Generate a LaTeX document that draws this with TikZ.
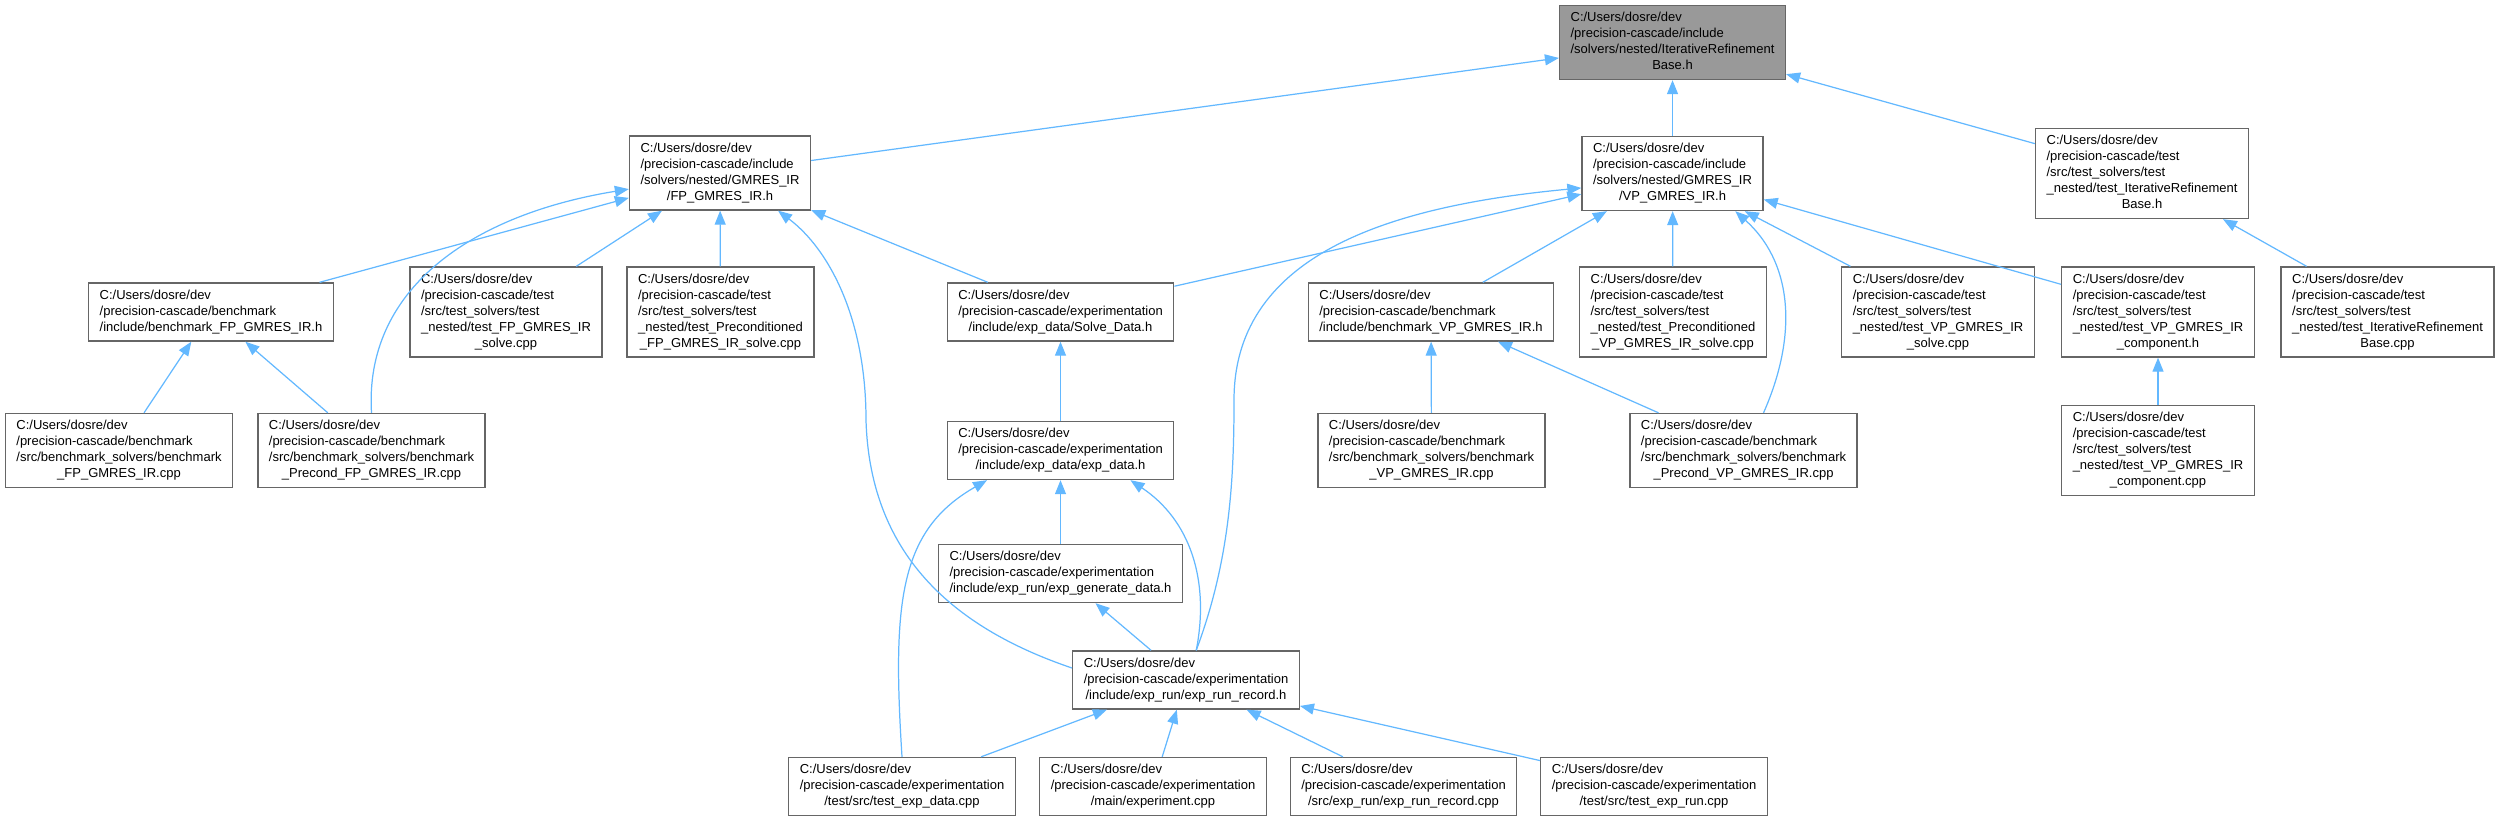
\documentclass[tikz,border=0pt]{standalone}
\usepackage{fontspec}
\setmainfont{Liberation Sans}
\usepackage{tikz}
\usetikzlibrary{arrows.meta}

\definecolor{edgeblue}{HTML}{63B8FF}
\definecolor{boxgray}{HTML}{666666}
\definecolor{rootfill}{HTML}{999999}
% all lines but the last are left aligned, the last one is centred
\newcommand{\flbl}[2]{\begin{tabular}{@{}l@{}}#1\\\multicolumn{1}{@{}c@{}}{#2}\end{tabular}}
\newcommand{\pcdir}{C:/Users/dosre/dev\\/precision-cascade}

\begin{document}
\begin{tikzpicture}[
  x=0.02cm, y=-0.02cm,
  font=\fontsize{7.4}{9.1}\selectfont,
  >={Triangle[length=0.28cm,width=0.22cm]},
  box/.style={draw=boxgray, line width=0.8pt, fill=#1, inner xsep=0.22cm, inner ysep=0.1cm},
  box/.default=white,
  edge/.style={->, line width=0.7pt, draw=edgeblue},
]
\useasboundingbox (0,0) rectangle (2500,821);
% top rows
\node[box=rootfill] (irb) at (1672.5,42.5) {\flbl{\pcdir/include\\/solvers/nested/IterativeRefinement}{Base.h}};
\node[box] (fp) at (720,173) {\flbl{\pcdir/include\\/solvers/nested/GMRES\_IR}{/FP\_GMRES\_IR.h}};
\node[box] (vp) at (1672.5,173.5) {\flbl{\pcdir/include\\/solvers/nested/GMRES\_IR}{/VP\_GMRES\_IR.h}};
\node[box] (tirbh) at (2142,173.5) {\flbl{\pcdir/test\\/src/test\_solvers/test\\\_nested/test\_IterativeRefinement}{Base.h}};
% headers and tests
\node[box] (bfph) at (211,312) {\flbl{\pcdir/benchmark}{/include/benchmark\_FP\_GMRES\_IR.h}};
\node[box] (tfps) at (506,312) {\flbl{\pcdir/test\\/src/test\_solvers/test\\\_nested/test\_FP\_GMRES\_IR}{\_solve.cpp}};
\node[box] (tpfp) at (720.5,312) {\flbl{\pcdir/test\\/src/test\_solvers/test\\\_nested/test\_Preconditioned}{\_FP\_GMRES\_IR\_solve.cpp}};
\node[box] (solve) at (1060.5,312) {\flbl{\pcdir/experimentation}{/include/exp\_data/Solve\_Data.h}};
\node[box] (bvph) at (1431,312) {\flbl{\pcdir/benchmark}{/include/benchmark\_VP\_GMRES\_IR.h}};
\node[box] (tpvp) at (1673,312) {\flbl{\pcdir/test\\/src/test\_solvers/test\\\_nested/test\_Preconditioned}{\_VP\_GMRES\_IR\_solve.cpp}};
\node[box] (tvps) at (1938,312) {\flbl{\pcdir/test\\/src/test\_solvers/test\\\_nested/test\_VP\_GMRES\_IR}{\_solve.cpp}};
\node[box] (tvpch) at (2158,312) {\flbl{\pcdir/test\\/src/test\_solvers/test\\\_nested/test\_VP\_GMRES\_IR}{\_component.h}};
\node[box] (tirbc) at (2387.5,312) {\flbl{\pcdir/test\\/src/test\_solvers/test\\\_nested/test\_IterativeRefinement}{Base.cpp}};
% benchmarks and exp_data
\node[box] (bfpc) at (119,450.5) {\flbl{\pcdir/benchmark\\/src/benchmark\_solvers/benchmark}{\_FP\_GMRES\_IR.cpp}};
\node[box] (bpfpc) at (371.5,450.5) {\flbl{\pcdir/benchmark\\/src/benchmark\_solvers/benchmark}{\_Precond\_FP\_GMRES\_IR.cpp}};
\node[box] (expdata) at (1060.5,450.5) {\flbl{\pcdir/experimentation}{/include/exp\_data/exp\_data.h}};
\node[box] (bvpc) at (1431.5,450.5) {\flbl{\pcdir/benchmark\\/src/benchmark\_solvers/benchmark}{\_VP\_GMRES\_IR.cpp}};
\node[box] (bpvpc) at (1743.5,450.5) {\flbl{\pcdir/benchmark\\/src/benchmark\_solvers/benchmark}{\_Precond\_VP\_GMRES\_IR.cpp}};
\node[box] (tvpcc) at (2158,450.5) {\flbl{\pcdir/test\\/src/test\_solvers/test\\\_nested/test\_VP\_GMRES\_IR}{\_component.cpp}};
% experimentation
\node[box] (expgen) at (1060.5,573.5) {\flbl{\pcdir/experimentation}{/include/exp\_run/exp\_generate\_data.h}};
\node[box] (exprun) at (1186,680) {\flbl{\pcdir/experimentation}{/include/exp\_run/exp\_run\_record.h}};
\node[box] (texpdata) at (902,786.5) {\flbl{\pcdir/experimentation}{/test/src/test\_exp\_data.cpp}};
\node[box] (experiment) at (1153,786.5) {\flbl{\pcdir/experimentation}{/main/experiment.cpp}};
\node[box] (exprunrec) at (1403.5,786.5) {\flbl{\pcdir/experimentation}{/src/exp\_run/exp\_run\_record.cpp}};
\node[box] (texprun) at (1654,786.5) {\flbl{\pcdir/experimentation}{/test/src/test\_exp\_run.cpp}};

% straight includes
\foreach \a/\b in {fp/irb, vp/irb, tirbh/irb, bfph/fp, tfps/fp, tpfp/fp, solve/fp,
    solve/vp, bvph/vp, tpvp/vp, tvps/vp, tvpch/vp, tirbc/tirbh, bfpc/bfph, bpfpc/bfph,
    expdata/solve, bvpc/bvph, bpvpc/bvph, tvpcc/tvpch, expgen/expdata, exprun/expgen,
    texpdata/exprun, experiment/exprun, exprunrec/exprun, texprun/exprun}
  \draw[edge] (\a) -- (\b);

% curved includes
\draw[edge] (bpfpc.north) .. controls (364,290) and (470,215) .. (fp.190);
\draw[edge] (exprun.174) .. controls (960,630) and (870,560) .. (866,420)
  .. controls (866,320) and (830,250) .. (fp.-33);
\draw[edge] (exprun.71) .. controls (1230,560) and (1234,480) .. (1234,400)
  .. controls (1234,250) and (1400,205) .. (vp.189);
\draw[edge] (bpvpc.62) .. controls (1800,330) and (1790,260) .. (vp.-31);
\draw[edge] (exprun.71) .. controls (1210,580) and (1190,520) .. (expdata.-23);
\draw[edge] (texpdata.north) .. controls (892,600) and (900,530) .. (expdata.-158);
\end{tikzpicture}
\end{document}
